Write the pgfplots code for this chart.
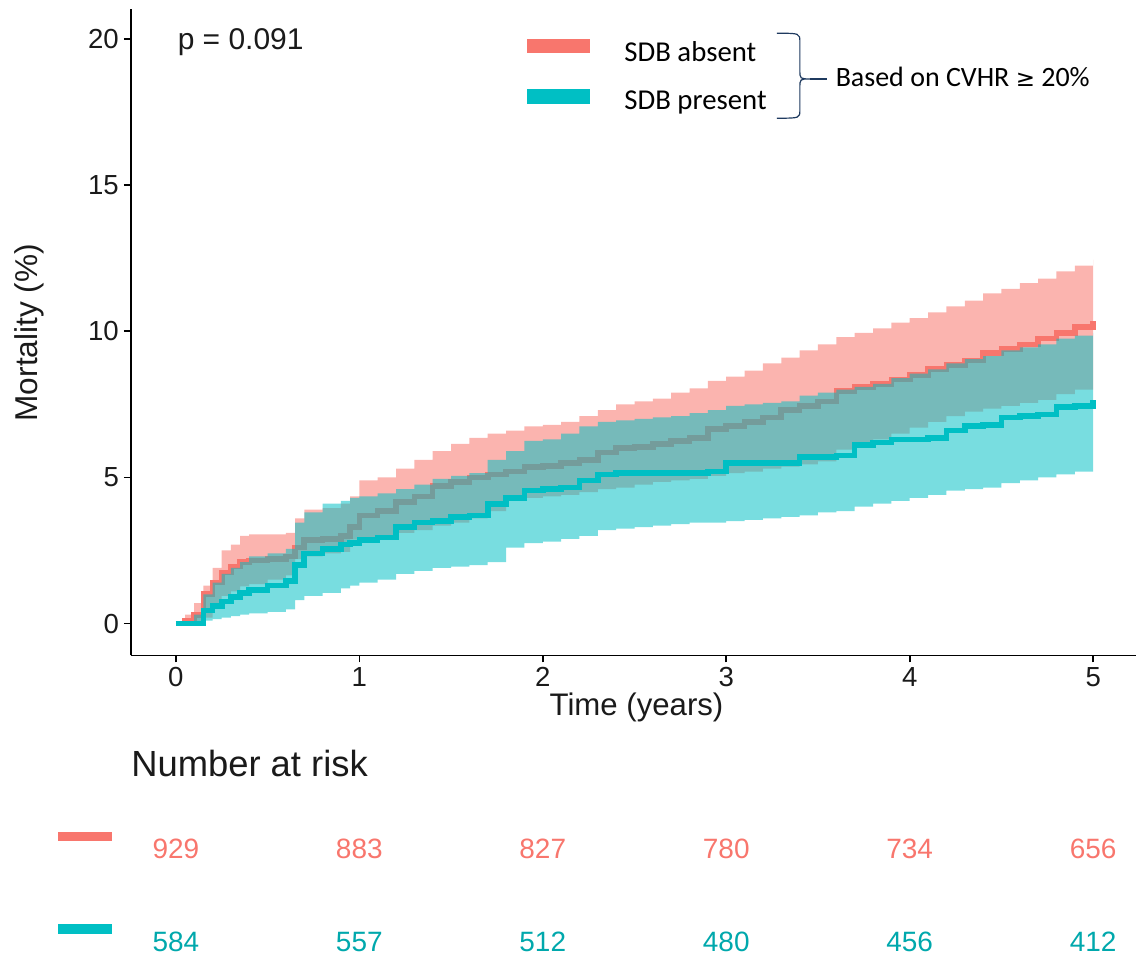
\documentclass[border=0pt]{standalone}
\usepackage{pgfplots}
\pgfplotsset{compat=1.18}
\usepgfplotslibrary{fillbetween}
\usepackage{pgfplotstable}
\usepackage{fontspec}
\setmainfont{Liberation Sans}
\newfontfamily\carlito{Carlito}
\newfontfamily\dejavu{DejaVu Sans}
\definecolor{kmred}{HTML}{F8766D}
\definecolor{kmteal}{HTML}{00BFC4}
\definecolor{bracecol}{HTML}{1F3A5F}
\definecolor{txt}{HTML}{1A1A1A}

\pgfplotstableread{
t est lo hi
0 0 0 0
0.05 0.1 0 0.3
0.1 0.3 0 0.7
0.15 1.0 0.2 1.3
0.2 1.4 0.6 1.9
0.25 1.75 0.95 2.5
0.3 1.95 1.1 2.7
0.35 2.1 1.27 3.0
0.4 2.15 1.35 3.05
0.5 2.2 1.5 3.05
0.6 2.3 1.65 3.1
0.65 2.6 2.2 3.6
0.7 2.85 2.3 3.9
0.8 2.9 2.4 3.95
0.9 3.0 2.45 4.1
0.95 3.3 2.87 4.35
1.0 3.7 2.9 4.9
1.1 3.85 3.0 5.0
1.2 4.15 3.1 5.3
1.3 4.35 3.2 5.6
1.4 4.7 3.35 5.9
1.5 4.85 3.45 6.15
1.6 5.0 3.6 6.35
1.7 5.1 3.85 6.5
1.8 5.2 4.2 6.6
1.9 5.35 4.3 6.75
2.0 5.4 4.35 6.8
2.1 5.5 4.4 6.9
2.2 5.6 4.5 7.1
2.3 5.85 4.6 7.3
2.4 6.0 4.65 7.5
2.5 6.05 4.75 7.6
2.6 6.15 4.85 7.7
2.7 6.25 4.9 7.9
2.8 6.35 4.95 8.05
2.9 6.65 5.05 8.3
3.0 6.75 5.15 8.45
3.1 6.9 5.2 8.65
3.2 7.05 5.3 8.9
3.3 7.3 5.37 9.1
3.4 7.45 5.45 9.35
3.5 7.6 5.55 9.55
3.6 7.95 5.95 9.8
3.7 8.1 6.15 9.95
3.8 8.2 6.3 10.1
3.9 8.35 6.5 10.3
4.0 8.5 6.7 10.45
4.1 8.7 6.9 10.65
4.2 8.85 7.1 10.85
4.3 9.0 7.25 11.05
4.4 9.25 7.35 11.3
4.5 9.4 7.45 11.45
4.6 9.55 7.55 11.65
4.7 9.75 7.65 11.8
4.8 9.95 7.85 12.05
4.9 10.15 8.0 12.25
5.0 10.35 8.2 12.45
}\redtab

\pgfplotstableread{
t est lo hi
0 0 0 0
0.05 0 0 0
0.1 0 0 0.3
0.15 0.45 0.1 1.0
0.2 0.6 0.15 1.4
0.25 0.75 0.2 1.7
0.3 0.9 0.25 1.9
0.35 1.05 0.3 2.1
0.4 1.15 0.35 2.3
0.5 1.3 0.4 2.4
0.6 1.45 0.48 2.55
0.65 2.0 0.8 3.45
0.7 2.4 0.95 3.8
0.8 2.55 1.05 4.1
0.9 2.7 1.2 4.2
0.95 2.75 1.3 4.3
1.0 2.85 1.4 4.35
1.1 2.95 1.5 4.45
1.2 3.3 1.7 4.6
1.3 3.45 1.8 4.75
1.4 3.5 1.9 4.95
1.5 3.65 1.95 5.05
1.6 3.7 2.0 5.15
1.7 4.1 2.1 5.6
1.8 4.3 2.6 5.9
1.9 4.55 2.75 6.25
2.0 4.6 2.8 6.3
2.1 4.65 2.9 6.5
2.2 4.9 3.0 6.75
2.3 5.1 3.2 6.9
2.4 5.15 3.25 6.95
2.5 5.15 3.3 7.0
2.6 5.15 3.35 7.05
2.7 5.15 3.4 7.1
2.8 5.15 3.45 7.2
2.9 5.2 3.45 7.3
3.0 5.5 3.5 7.45
3.1 5.5 3.55 7.5
3.2 5.5 3.6 7.55
3.3 5.5 3.65 7.6
3.4 5.7 3.7 7.8
3.5 5.7 3.8 7.9
3.6 5.75 3.85 8.0
3.7 6.1 4.0 8.1
3.8 6.2 4.1 8.2
3.9 6.3 4.2 8.4
4.0 6.3 4.3 8.55
4.1 6.35 4.4 8.7
4.2 6.6 4.55 8.9
4.3 6.75 4.6 9.05
4.4 6.8 4.65 9.15
4.5 7.05 4.8 9.35
4.6 7.1 4.9 9.45
4.7 7.15 5.0 9.55
4.8 7.4 5.1 9.75
4.9 7.45 5.2 9.85
5.0 7.65 5.35 9.95
}\tealtab

\begin{document}
\begin{tikzpicture}[x=1pt,y=1pt]
\begin{axis}[
  at={(0,0)}, anchor=south west,
  scale only axis, width=503pt, height=323.5pt,
  xmin=-0.245, xmax=5.234, ymin=-1.094, ymax=21.03,
  axis x line*=bottom, axis y line*=left,
  axis line style={-, line width=0.9pt, black},
  xtick={0,1,2,3,4,5}, ytick={0,5,10,15,20},
  tick align=outside, major tick length=3.5pt,
  tick style={line width=0.8pt, black},
  /pgf/number format/assume math mode=true,
  ticklabel style={font=\fontsize{13.8}{15}\selectfont, text=txt},
  yticklabel style={xshift=1pt},
  xticklabel style={yshift=1pt},
  clip=false,
]
\addplot[name path=rh, draw=none, const plot, forget plot] table[x=t,y=hi]{\redtab};
\addplot[name path=rl, draw=none, const plot, forget plot] table[x=t,y=lo]{\redtab};
\addplot[fill=kmred, fill opacity=0.55, draw=none, forget plot] fill between[of=rh and rl];
\addplot[kmred, line width=2.8pt, const plot, forget plot, on layer=pre main] table[x=t,y=est]{\redtab};
\addplot[name path=th, draw=none, const plot, forget plot] table[x=t,y=hi]{\tealtab};
\addplot[name path=tl, draw=none, const plot, forget plot] table[x=t,y=lo]{\tealtab};
\addplot[fill=kmteal, fill opacity=0.53, draw=none, forget plot] fill between[of=th and tl];
\addplot[kmteal, line width=2.8pt, const plot, forget plot] table[x=t,y=est]{\tealtab};
\end{axis}
% axis labels
\node[anchor=base, text=txt, font=\fontsize{15.6}{18}\selectfont] at (253,-30) {Time (years)};
\node[anchor=base, rotate=90, text=txt, font=\fontsize{15.8}{18}\selectfont] at (-46.75,161.5) {Mortality (\%)};
% p value
\node[anchor=base west, inner sep=0pt, text=txt, font=\fontsize{15}{17}\selectfont] at (23.25,303) {p = 0.091};
% legend
\fill[kmred] (198,308.5) rectangle (229.5,301.5);
\fill[kmteal] (198,283.5) rectangle (229.5,276);
\node[anchor=base west, inner sep=0pt, font=\carlito\fontsize{14.4}{17}\selectfont] at (246.75,297) {SDB absent};
\node[anchor=base west, inner sep=0pt, font=\carlito\fontsize{14.4}{17}\selectfont] at (246.75,273) {SDB present};
\draw[bracecol, line width=0.6pt] (323.25,311.35) .. controls (334.75,311.35) .. (334.75,307) -- (334.75,293) .. controls (334.75,288.5) .. (340,288.5) .. controls (334.75,288.5) .. (334.75,284) -- (334.75,273) .. controls (334.75,268.85) .. (323.25,268.85);
\draw[bracecol, line width=0.6pt] (340,288.5) -- (348.35,288.5);
\node[anchor=base west, inner sep=0pt, font=\carlito\fontsize{14}{17}\selectfont] at (352.5,284.5) {Based on CVHR {\dejavu\fontsize{11.5}{13}\selectfont ≥} 20\%};
% risk table
\node[anchor=base west, inner sep=0pt, text=txt, font=\fontsize{18.2}{21}\selectfont] at (0,-60.5) {Number at risk};
\fill[kmred] (-36.5,-88.5) rectangle (-9.5,-93);
\fill[kmteal] (-36.5,-134.5) rectangle (-9.5,-139.5);
\foreach \v [count=\i from 0] in {929,883,827,780,734,656} {
  \node[anchor=base, inner sep=0pt, text=kmred, font=\fontsize{14}{16}\selectfont] at (22.5+91.8*\i,-101.5) {\v};
}
\foreach \v [count=\i from 0] in {584,557,512,480,456,412} {
  \node[anchor=base, inner sep=0pt, text=kmteal!88!black, font=\fontsize{14}{16}\selectfont] at (22.5+91.8*\i,-148) {\v};
}
\path (-65.5,-150) rectangle (503,328);
\end{tikzpicture}
\end{document}
